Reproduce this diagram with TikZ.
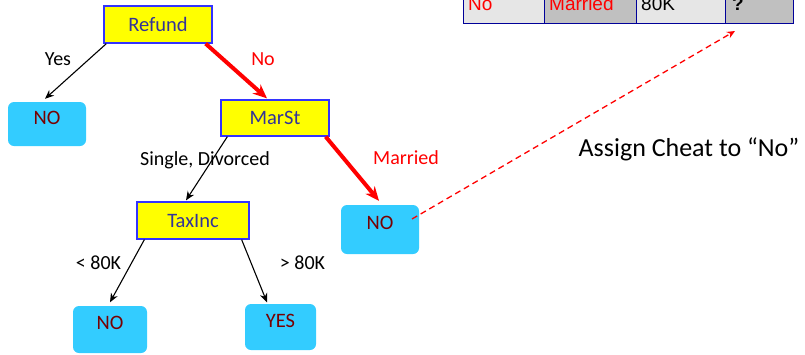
\documentclass[tikz,border=0pt]{standalone}
\usepackage{fontspec}
\setmainfont{Carlito}
\newfontfamily\arialfont{Liberation Sans}
\usetikzlibrary{arrows.meta,calc}
\definecolor{nodeyellow}{RGB}{255,255,0}
\definecolor{nodeborder}{RGB}{51,51,255}
\definecolor{decisiontext}{RGB}{51,51,153}
\definecolor{leaffill}{RGB}{51,204,255}
\definecolor{leaftext}{RGB}{120,0,0}
\definecolor{cellpale}{RGB}{230,230,230}
\definecolor{celldark}{RGB}{192,192,192}
\definecolor{tableline}{RGB}{0,0,153}
\begin{document}
\begin{tikzpicture}[x=1pt,y=-1pt,
  decision/.style={draw=nodeborder, line width=1.3pt, fill=nodeyellow, inner sep=0pt,
    text=decisiontext, font=\fontsize{20.5}{24}\selectfont, text height=13.2pt, text depth=0pt},
  leaf/.style={fill=leaffill, rounded corners=6pt, inner sep=0pt, text=leaftext,
    font=\fontsize{20.5}{24}\selectfont, text height=14pt, text depth=14pt},
  edgelabel/.style={font=\fontsize{20}{24}\selectfont, inner sep=0pt},
  thinarrow/.style={-{Stealth[length=9pt,width=7.5pt]}, line width=1.1pt, black},
  redarrow/.style={-{Stealth[length=14pt,width=12pt]}, line width=4pt, red},
  dasharrow/.style={-{Stealth[length=8pt,width=7pt]}, line width=1.3pt, red, dash pattern=on 6pt off 4pt},
  celltext/.style={font=\arialfont\fontsize{19}{22}\selectfont, inner sep=0pt, anchor=base west},
  tablerule/.style={draw=tableline, line width=1pt}]
\useasboundingbox (0,0) rectangle (805,354);
\clip (0,0) rectangle (805,354);

% table row (partly above the picture)
\fill[cellpale] (463,-30) rectangle (544,23.5);
\fill[celldark] (544,-30) rectangle (636,23.5);
\fill[cellpale] (636,-30) rectangle (725,23.5);
\fill[celldark] (725,-30) rectangle (793,23.5);
\draw[tablerule] (463,-30) -- (463,23.5) -- (793,23.5) -- (793,-30);
\draw[tablerule] (544,-30) -- (544,23.5);
\draw[tablerule] (636,-30) -- (636,23.5);
\draw[tablerule] (725,-30) -- (725,23.5);
\node[celltext, text=red] (cref) at (468,10) {No};
\node[celltext, text=red] (cmar) at (549,10) {Married};
\node[celltext] (cinc) at (641,10) {80K};
\node[celltext, font=\arialfont\bfseries\fontsize{19}{22}\selectfont] (cq) at (732,10) {?};

% tree nodes
\node[decision, minimum width=108pt, minimum height=37pt] (refund) at (158,24.5) {Refund};
\node[leaf, minimum width=78pt, minimum height=44pt] (no1) at (47,124) {NO};
\node[decision, minimum width=108pt, minimum height=36pt] (marst) at (275,118) {MarSt};
\node[decision, minimum width=112pt, minimum height=37pt] (taxinc) at (193,220.5) {TaxInc};
\node[leaf, minimum width=78pt, minimum height=49pt] (no2) at (380,229.5) {NO};
\node[leaf, minimum width=74pt, minimum height=47pt] (no3) at (110,329.5) {NO};
\node[leaf, minimum width=71pt, minimum height=46pt] (yes) at (280.5,327) {YES};

% edges
\draw[thinarrow] ($(refund.south west)+(3,0)$) -- ($(no1.north)+(-2,-3)$);
\draw[redarrow] ($(refund.south east)+(-7,0)$) -- ($(marst.north)+(-8,-1)$);
\draw[thinarrow] ($(marst.south west)+(7,0)$) -- ($(taxinc.north)+(-7,-1)$);
\draw[redarrow] ($(marst.south east)+(-4,0)$) -- ($(no2.north)+(-1,-4)$);
\draw[thinarrow] ($(taxinc.south west)+(8,0)$) -- ($(no3.north)+(0,-3.5)$);
\draw[thinarrow] ($(taxinc.south east)+(-8,0)$) -- ($(yes.north)+(-13.5,-1.5)$);

% edge labels
\node[edgelabel] (lyes) at (58,59) {Yes};
\node[edgelabel, text=red] (lno) at (263,59) {No};
\node[edgelabel] (lsd) at (205,160) {Single, Divorced};
\node[edgelabel, text=red] (lmar) at (406,158) {Married};
\node[edgelabel] (llt) at (98.5,263) {< 80K};
\node[edgelabel] (lgt) at (302.5,263) {> 80K};

% dashed arrow to the table
\coordinate (dstart) at (412,219);
\coordinate (dtip) at (735,31);
\draw[dasharrow] (dstart) -- (dtip);

\node[font=\fontsize{26}{30}\selectfont, inner sep=0pt] (assign) at (689,149) {Assign Cheat to “No”};
\end{tikzpicture}
\end{document}
